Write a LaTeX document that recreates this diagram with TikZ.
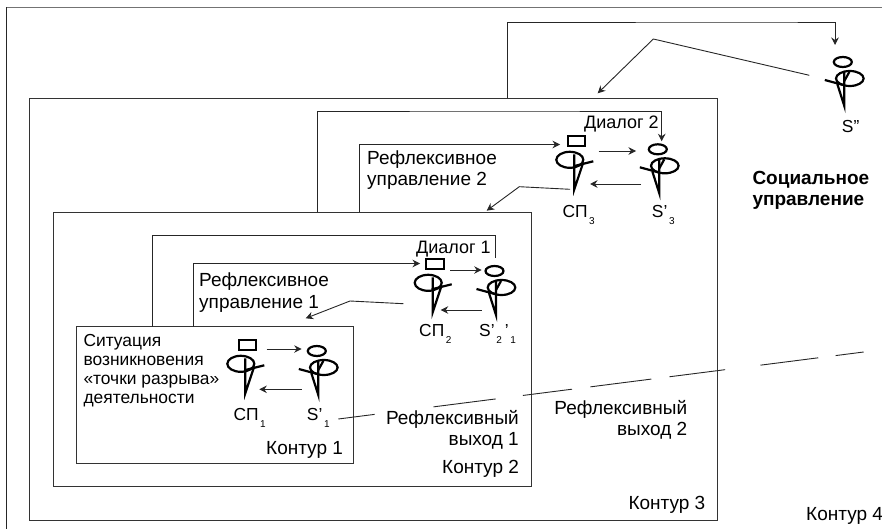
\documentclass[tikz,border=0pt]{standalone}
\usepackage{fontspec}
\setmainfont{Liberation Sans}
\usetikzlibrary{
  arrows.meta,
}
\newcommand{\lowidx}[1]{\raisebox{-7pt}{\fontsize{10}{10}\selectfont #1}}
\tikzset{
  contour/.style={
    rectangle,
    draw=black!80,
    line width=0.9pt,
    anchor=north west,
    outer sep=0pt,
    inner sep=0pt,
  },
  txt/.style={
    anchor=base west,
    inner sep=0pt,
    font=\fontsize{19}{22}\selectfont,
  },
  txtr/.style={
    txt,
    anchor=base east,
  },
  txtsm/.style={
    txt,
    font=\fontsize{17.4}{20}\selectfont,
  },
  txtb/.style={
    txt,
    font=\fontsize{19}{22}\selectfont\bfseries,
  },
  conn/.style={
    line width=0.9pt,
    black!85,
  },
  arrow/.style={
    conn,
    -{Stealth[length=7.5pt,width=7.5pt]},
  },
  figline/.style={
    line width=2.2pt,
    black,
  },
  pics/boss/.style={
    code={
      \coordinate (-foot) at (0,0);
      \draw [figline] (-4.5,-29.5) ellipse [x radius=13.5, y radius=8];
      \draw [figline] (19,-28) -- (-1,-23);
      \draw [figline, line join=miter] (0,-35) -- (0,0) -- (9,-27);
      \draw [figline, line width=1.8pt] (-6.5,-53.5) rectangle (11,-43);
    }
  },
  pics/subject/.style={
    code={
      \coordinate (-foot) at (0,0);
      \draw [figline] (-1.5,-44) ellipse [x radius=9, y radius=5];
      \draw [figline] (5.5,-27.5) ellipse [x radius=13.8, y radius=7.5];
      \draw [figline] (-19.5,-26) -- (-1,-21);
      \draw [figline, line join=miter] (0,-35) -- (0,0) -- (-7,-22);
      \draw [figline] (0,-25) -- (5,-34);
    }
  },
}

\begin{document}
\begin{tikzpicture}[x=1pt, y=-1pt]
  \useasboundingbox (0,0) rectangle (882,529);

  % Outer frame
  \coordinate (frameTL) at (6,7.5);
  \coordinate (frameTR) at (882,7.5);
  \coordinate (frameBL) at (6,529);
  \draw [line width=1.3pt, black!55] (frameTL) -- (frameTR);
  \draw [line width=0.9pt, black!85] (frameTL) -- (frameBL);

  % Contours
  \node (kontur3) [contour, minimum width=688pt, minimum height=421.5pt] at (29.5,98.5) {};
  \node (kontur2) [contour, minimum width=478.5pt, minimum height=274pt] at (53,212) {};
  \node (kontur1) [contour, minimum width=276.5pt, minimum height=136.5pt] at (76.5,326.5) {};

  % Figures
  \pic (sp1) at (245.3,393.3) {boss};
  \pic (sp2) at (432.7,312.3) {boss};
  \pic (sp3) at (574.3,189.3) {boss};
  \pic (s1) at (318.3,395) {subject};
  \pic (s2) at (496,315) {subject};
  \pic (s3) at (659.3,193.3) {subject};
  \pic (s4) at (844.3,106) {subject};

  % Free ends of the connectors
  \coordinate (up4) at (507.7,98.5);
  \coordinate (topS) at (835,45);
  \coordinate (fromS) at (809.3,75.3);
  \coordinate (bendS) at (653.3,39);
  \coordinate (toK3) at (597.7,93.3);
  \coordinate (dlg2a) at (317,212);
  \coordinate (dlg2b) at (661.7,141.3);
  \coordinate (upr2a) at (359,212);
  \coordinate (upr2b) at (560,144.5);
  \coordinate (out3) at (570,189.3);
  \coordinate (bend3) at (519.3,186.7);
  \coordinate (toK2) at (486.7,210.7);
  \coordinate (dlg1a) at (152.3,326.5);
  \coordinate (dlg1b) at (495,258);
  \coordinate (upr1a) at (193.3,326.5);
  \coordinate (upr1b) at (420,263.5);
  \coordinate (out2) at (403.3,303.7);
  \coordinate (bend2) at (350,301);
  \coordinate (toK1) at (305.7,318.3);
  \coordinate (exitA) at (338.3,419);
  \coordinate (exitB) at (863.7,352);

  % Arrows
  \draw [arrow] (up4) |- (761,22) -| (topS);
  \draw [arrow] (fromS) -- (bendS) -- (toK3);
  \draw [arrow] (dlg2a) |- (500,111) -| (dlg2b);
  \draw [arrow] (upr2a) |- (upr2b);
  \draw [arrow] (out3) -- (bend3) -- (toK2);
  \draw [conn] (dlg1a) |- (300,235.7) -| (dlg1b);
  \draw [arrow] (upr1a) |- (upr1b);
  \draw [arrow] (out2) -- (bend2) -- (toK1);

  \coordinate (a1) at (266.7,349);
  \coordinate (a2) at (301.7,349);
  \coordinate (b1) at (301.7,389.3);
  \coordinate (b2) at (259.3,389.3);
  \coordinate (c1) at (450,270);
  \coordinate (c2) at (481.7,270);
  \coordinate (d1) at (481.7,310);
  \coordinate (d2) at (440.7,310);
  \coordinate (e1) at (598.7,151);
  \coordinate (e2) at (636,151);
  \coordinate (f1) at (641,184);
  \coordinate (f2) at (590,184);
  \draw [arrow] (a1) -- (a2);
  \draw [arrow] (b1) -- (b2);
  \draw [arrow] (c1) -- (c2);
  \draw [arrow] (d1) -- (d2);
  \draw [arrow] (e1) -- (e2);
  \draw [arrow] (f1) -- (f2);

  % Reflexive exit
  \draw [conn, dash pattern=on 36.6pt off 59.4pt on 62.7pt off 27.4pt on 49.5pt off 18.6pt on 61.3pt off 18.3pt on 56.2pt off 35.6pt on 58.2pt off 17.6pt on 29pt off 100pt]
  (exitA) -- (exitB);

  % Labels
  \node (lblK1) [txt] at (266,454.3) {Контур 1};
  \node (lblK2) [txt] at (442,473.3) {Контур 2};
  \node (lblK3) [txt] at (628.3,509.3) {Контур 3};
  \node (lblK4) [txt] at (806,520.7) {Контур 4};

  \node (lblSit1) [txtsm] at (83.3,346.7) {Ситуация};
  \node (lblSit2) [txtsm] at (83.3,365.7) {возникновения};
  \node (lblSit3) [txtsm] at (83.3,384.3) {«точки разрыва»};
  \node (lblSit4) [txtsm] at (83.3,403.3) {деятельности};

  \node (lblUpr1a) [txt] at (199,286.7) {Рефлексивное};
  \node (lblUpr1b) [txt] at (199,308) {управление 1};
  \node (lblUpr2a) [txt] at (367,165) {Рефлексивное};
  \node (lblUpr2b) [txt] at (367,185.7) {управление 2};

  \node (lblVyh1a) [txtr] at (519,424.3) {Рефлексивный};
  \node (lblVyh1b) [txtr] at (519,445) {выход 1};
  \node (lblVyh2a) [txtr] at (687.4,414) {Рефлексивный};
  \node (lblVyh2b) [txtr] at (687.4,435) {выход 2};

  \node (lblDlg1) [txt, font=\fontsize{18}{20}\selectfont] at (416,253.3) {Диалог 1};
  \node (lblDlg2) [txt, font=\fontsize{18}{20}\selectfont] at (584,129) {Диалог 2};

  \node (lblSoc1) [txtb] at (752.3,185) {Социальное};
  \node (lblSoc2) [txtb] at (752.3,205) {управление};

  \node (lblSP1) [txtsm] at (233.3,420) {СП\lowidx{\,1}};
  \node (lblSP2) [txtsm] at (419,336) {СП\lowidx{\,2}};
  \node (lblSP3) [txtsm] at (562.3,217.3) {СП\lowidx{\,3}};
  \node (lblS1) [txtsm] at (306.7,420) {S’\lowidx{\,1}};
  \node (lblS2) [txtsm] at (479,336) {S’\lowidx{\,2}\,’\lowidx{\,1}};
  \node (lblS3) [txtsm] at (651.7,217.3) {S’\lowidx{\,3}};
  \node (lblS4) [txtsm] at (841.7,133) {S”};

\end{tikzpicture}
\end{document}
